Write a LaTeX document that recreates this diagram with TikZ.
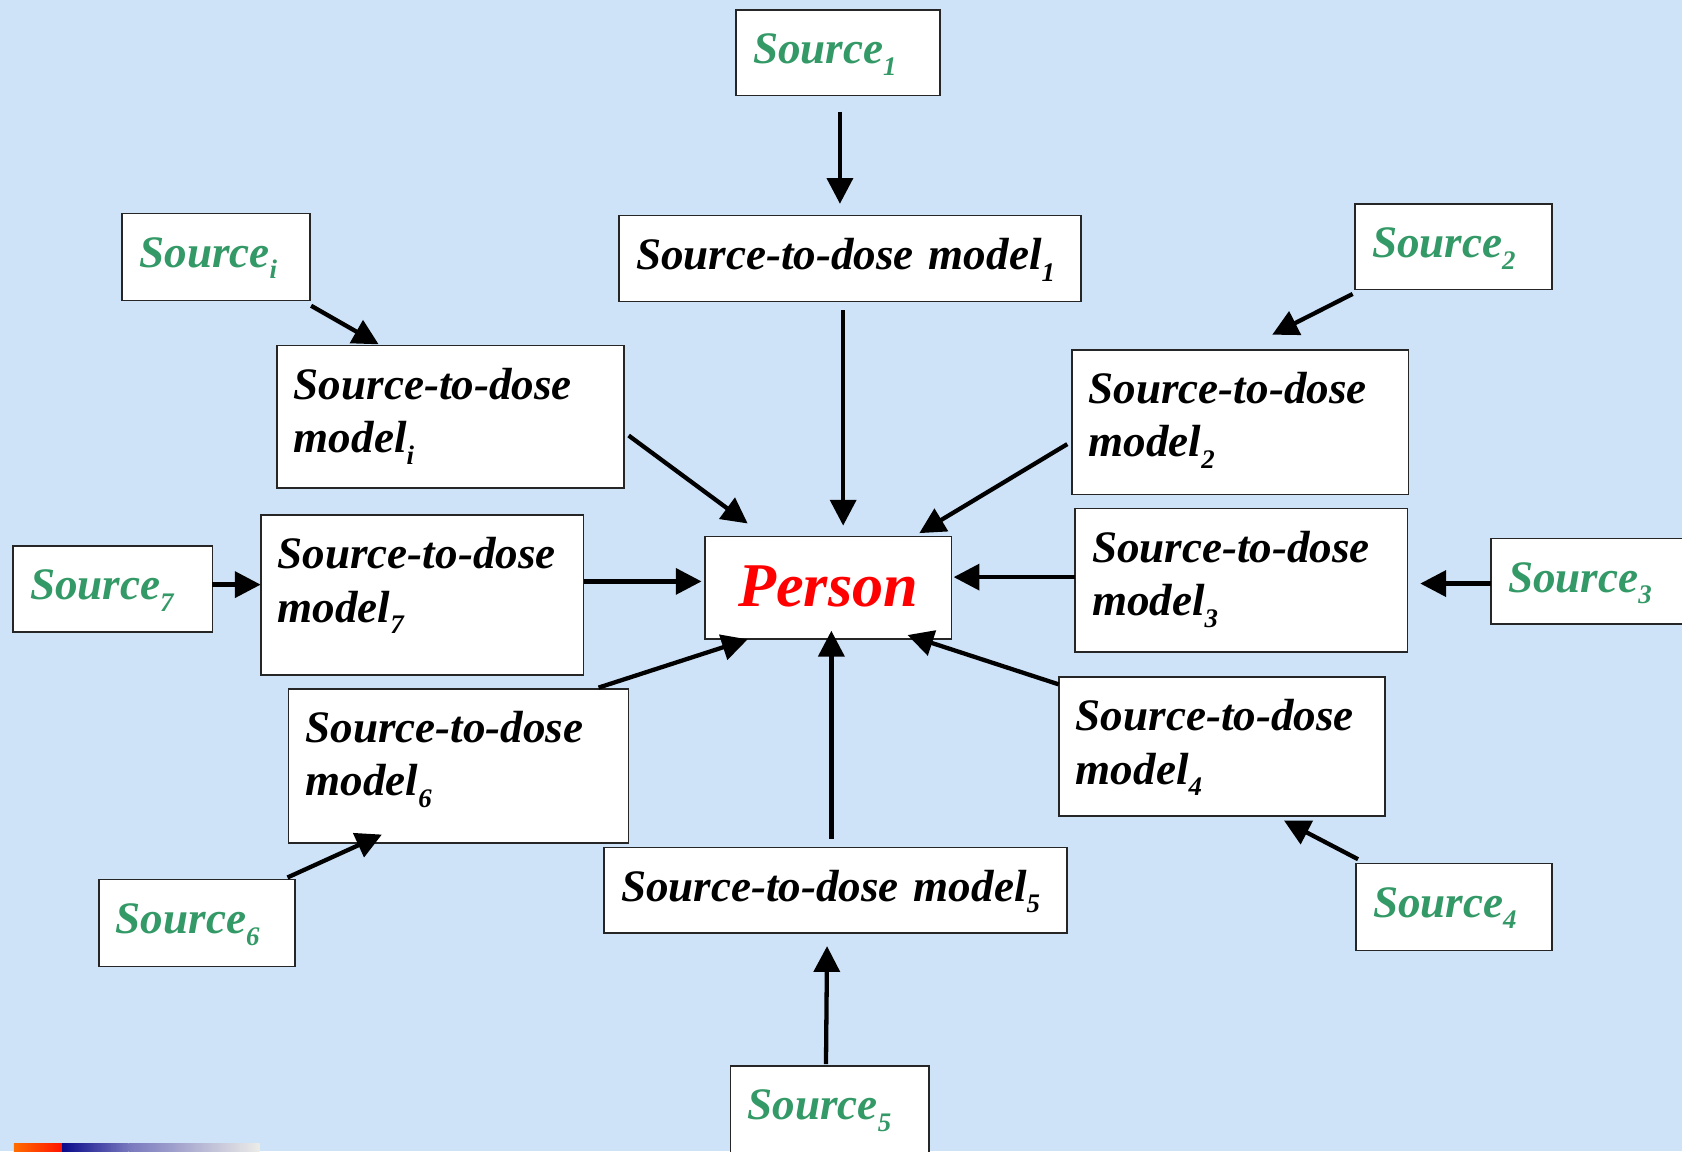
\documentclass[tikz,border=0pt]{standalone}
\usepackage{fontspec}
\setmainfont{Liberation Serif}
\usetikzlibrary{arrows.meta,calc}
\definecolor{bgblue}{RGB}{207,227,248}
\definecolor{srcgreen}{RGB}{51,153,102}
\definecolor{navyb}{RGB}{10,10,140}
\definecolor{midb}{RGB}{120,120,190}
\definecolor{paleb}{RGB}{236,236,232}
\newcommand\subx[1]{\raisebox{-11pt}{\fontsize{25}{25}\selectfont #1}}
\begin{document}
\begin{tikzpicture}[x=1pt,y=-1pt,
  box/.style={draw=black!85, line width=1.6pt, fill=white, rectangle, anchor=north west,
    inner xsep=16pt, inner ysep=0pt, outer sep=0pt, align=left, text height=50pt,
    font=\fontsize{42}{50}\selectfont\bfseries\itshape},
  src/.style={box, text=srcgreen},
  arr/.style={line width=4pt, -{Triangle[length=24pt,width=24pt]}}]
\useasboundingbox (0,0) rectangle (1568,1073);
\clip (0,0) rectangle (1568,1073);
\fill[bgblue] (0,0) rectangle (1568,1073);
% bottom-left strip
\shade[left color=orange!85!red, right color=red!85!orange] (13,1066) rectangle (58,1073);
\shade[left color=navyb, right color=midb] (58,1066) rectangle (120,1073);
\shade[left color=midb, right color=paleb] (120,1066) rectangle (242,1073);
% boxes
\node[src, text width=158pt, text depth=30pt] (s1) at (686,9) {Source\subx{1}};
\node[box, text width=399pt, text depth=30pt] (m1) at (577,201) {Source-to-dose model\subx{1}};
\node[src, text width=143pt, text depth=31pt] (si) at (114,199) {Source\subx{i}};
\node[box, text width=292pt, text depth=83pt] (mi) at (258,322) {Source-to-dose\\model\subx{i}};
\node[src, text width=152pt, text depth=30pt] (s2) at (1263,190) {Source\subx{2}};
\node[box, text width=282pt, text depth=85pt] (m2) at (999,326) {Source-to-dose\\model\subx{2}};
\node[src, text width=154pt, text depth=30pt] (s7) at (12,509) {Source\subx{7}};
\node[box, text width=269pt, text depth=99pt] (m7) at (243,480) {Source-to-dose\\model\subx{7}};
\node[box, text width=198pt, text height=65pt, text depth=31pt, align=center, text=red,
  font=\fontsize{58}{60}\selectfont\bfseries\itshape] (P) at (657,500) {Person};
\node[box, text width=278pt, text depth=84pt] (m3) at (1002,474) {Source-to-dose\\model\subx{3}};
\node[src, text width=158pt, text depth=30pt] (s3) at (1390,502) {Source\subx{3}};
\node[box, text width=285pt, text depth=94pt] (m6) at (269,642) {Source-to-dose\\model\subx{6}};
\node[box, text width=272pt, text depth=80pt] (m4) at (987,631) {Source-to-dose\\model\subx{4}};
\node[box, text width=400pt, text depth=30pt] (m5) at (563,790) {Source-to-dose model\subx{5}};
\node[src, text width=151pt, text depth=31pt] (s6) at (92,820) {Source\subx{6}};
\node[src, text width=151pt, text depth=31pt] (s4) at (1264,805) {Source\subx{4}};
\node[src, text width=153pt, text depth=31pt] (s5) at (681,994) {Source\subx{5}};
% connectors
\draw[arr] ($(s1.south)+(2,15)$) -- ($(m1.north)+(-9.5,-11)$);
\draw[arr] ($(m1.south)+(-6.5,8)$) -- ($(P.north)+(14,-10)$);
\draw[arr] ($(si.south east)+(1,5)$) -- ($(mi.north west)+(95,-1)$);
\draw[arr] ($(mi.east)+(4,17.5)$) -- ($(P.north west)+(40,-12)$);
\draw[arr] ($(s2.south west)+(-2,4)$) -- ($(m2.north)+(30,-14)$);
\draw[arr] ($(m2.west)+(-4,20.5)$) -- ($(P.north east)+(-30,-3)$);
\draw[arr] ($(s7.east)+(0,-4)$) -- ($(m7.west)+(0,-9.5)$);
\draw[arr] ($(m7.east)+(0,-12.5)$) -- ($(P.west)+(-3,-6)$);
\draw[arr] ($(m3.west)+(0,-3)$) -- ($(P.east)+(2,-10)$);
\draw[arr] ($(s3.west)+(0,2)$) -- ($(m3.east)+(12,3)$);
\draw[arr] ($(m6.north east)+(-28,-1)$) -- ($(P.south west)+(40,0)$);
\draw[arr] ($(s6.north east)+(-7,-2)$) -- ($(m6.south west)+(87,-8)$);
\draw[arr] ($(m5.north)+(-4,-8)$) -- ($(P.south)+(3,-8)$);
\draw[arr] ($(s5.north)+(-3.5,-2)$) -- ($(m5.south)+(-8,12)$);
\draw[arr] ($(m4.north west)+(0,7)$) -- ($(P.south east)+(-41,-4)$);
\draw[arr] ($(s4.north west)+(2,-4)$) -- ($(m4.south)+(58,4)$);
\end{tikzpicture}
\end{document}
